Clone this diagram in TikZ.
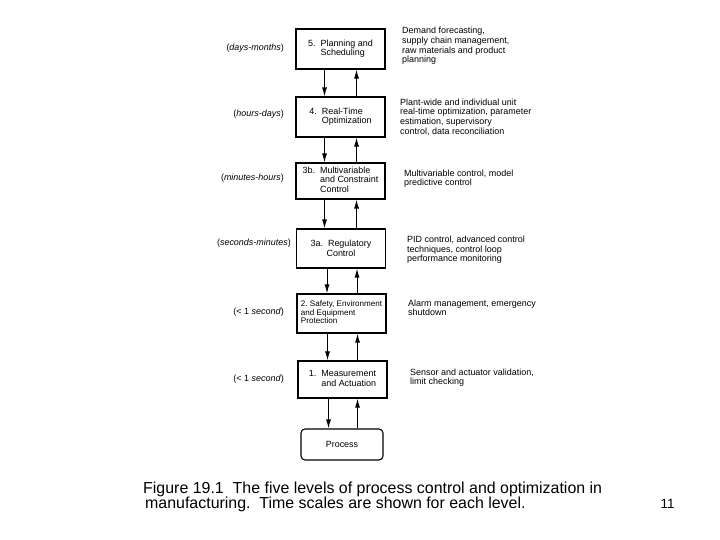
\documentclass[tikz,border=0pt]{standalone}
\usepackage{fontspec}
\setmainfont{Liberation Sans}
\usetikzlibrary{arrows.meta}

\begin{document}
\begin{tikzpicture}[x=1bp,y=-1bp]

    %--- Page frame (720 x 540)
    \useasboundingbox (0,0) rectangle (720,540);

    %--- Base styles
    \tikzstyle{level box}=[draw, line width=1.1bp, minimum width=89bp, minimum height=39bp, inner sep=1bp, font=\fontsize{9}{9.6}\selectfont]
    \tikzstyle{time label}=[anchor=east, inner sep=0pt, font=\fontsize{9}{10}\selectfont]
    \tikzstyle{task text}=[anchor=west, inner sep=0pt, align=left, font=\fontsize{9}{9.6}\selectfont]
    \tikzstyle{flow}=[line width=1bp, -{Latex[length=9bp,width=5bp]}]

    %--- Levels (5 at the top, process at the bottom)
    \node[level box, minimum height=40bp] (L5) at (340.5,49) {\begin{tabular}{@{}l@{\ \ }l@{}}5. & Planning and\\ & Scheduling\end{tabular}};
    \node[level box, minimum height=40bp] (L4) at (340.5,117) {\begin{tabular}{@{}l@{\ \ }l@{}}4. & Real-Time\\ & Optimization\end{tabular}};
    \node[level box, minimum height=36bp] (L3b) at (340.5,181) {\begin{tabular}{@{}l@{\ \ }l@{}}3b. & Multivariable\\ & and Constraint\\ & Control\end{tabular}};
    \node[level box, align=center] (L3a) at (341,248.5) {3a.\ \ Regulatory\\ Control};
    \node[level box, font=\fontsize{8.1}{8.7}\selectfont] (L2) at (341.5,313.5) {\begin{tabular}{@{}l@{}}2.\ Safety, Environment\\ and Equipment\\ Protection\end{tabular}};
    \node[level box, minimum height=37bp] (L1) at (342.5,379.5) {\begin{tabular}{@{}l@{\ \ }l@{}}1. & Measurement\\ & and Actuation\end{tabular}};
    \node[level box, rounded corners=4bp, minimum width=82bp, minimum height=31bp] (P) at (342,444.5) {Process};

    %--- Information flow: down on the left, up on the right
    \draw[flow] ([xshift=-16bp]L5.south) -- ([xshift=-16bp]L5.south |- L4.north);
    \draw[flow] ([xshift=16bp]L5.south |- L4.north) -- ([xshift=16bp]L5.south);
    \draw[flow] ([xshift=-16bp]L4.south) -- ([xshift=-16bp]L4.south |- L3b.north);
    \draw[flow] ([xshift=16bp]L4.south |- L3b.north) -- ([xshift=16bp]L4.south);
    \draw[flow] ([xshift=-16bp]L3b.south) -- ([xshift=-16bp]L3b.south |- L3a.north);
    \draw[flow] ([xshift=16bp]L3b.south |- L3a.north) -- ([xshift=16bp]L3b.south);
    \draw[flow] ([xshift=-14bp]L3a.south) -- ([xshift=-14bp]L3a.south |- L2.north);
    \draw[flow] ([xshift=16bp]L3a.south |- L2.north) -- ([xshift=16bp]L3a.south);
    \draw[flow] ([xshift=-14bp]L2.south) -- ([xshift=-14bp]L2.south |- L1.north);
    \draw[flow] ([xshift=16bp]L2.south |- L1.north) -- ([xshift=16bp]L2.south);
    \draw[flow] ([xshift=-14bp]L1.south) -- ([xshift=-14bp]L1.south |- P.north);
    \draw[flow] ([xshift=15bp]L1.south |- P.north) -- ([xshift=15bp]L1.south);

    %--- Time scales (left)
    \node[time label] (T5) at (284,48) {(\textit{days-months})};
    \node[time label] (T4) at (284,114) {(\textit{hours-days})};
    \node[time label] (T3b) at (284,178) {(\textit{minutes-hours})};
    \node[time label] (T3a) at (291,243) {(\textit{seconds-minutes})};
    \node[time label] (T2) at (284,312) {(< 1 \textit{second})};
    \node[time label] (T1) at (284,379) {(< 1 \textit{second})};

    %--- Tasks at each level (right)
    \node[task text] (D5) at (402,46) {Demand forecasting,\\ supply chain management,\\ raw materials and product\\ planning};
    \node[task text] (D4) at (400,117) {Plant-wide and individual unit\\ real-time optimization, parameter\\ estimation, supervisory\\ control, data reconciliation};
    \node[task text] (D3b) at (404,178.5) {Multivariable control, model\\ predictive control};
    \node[task text] (D3a) at (407,250) {PID control, advanced control\\ techniques, control loop\\ performance monitoring};
    \node[task text] (D2) at (408,308) {Alarm management, emergency\\ shutdown};
    \node[task text] (D1) at (410,377.5) {Sensor and actuator validation,\\ limit checking};

    %--- Caption and page number
    \node[anchor=base west, inner sep=0pt, font=\fontsize{16}{16}\selectfont] (cap1) at (143,493.5) {Figure 19.1\ \ The five levels of process control and optimization in};
    \node[anchor=base west, inner sep=0pt, font=\fontsize{16}{16}\selectfont] (cap2) at (145,508) {manufacturing.\ \ Time scales are shown for each level.};
    \node[anchor=base, inner sep=0pt, font=\fontsize{13.5}{13.5}\selectfont] (page) at (667.5,508) {11};

\end{tikzpicture}
\end{document}
